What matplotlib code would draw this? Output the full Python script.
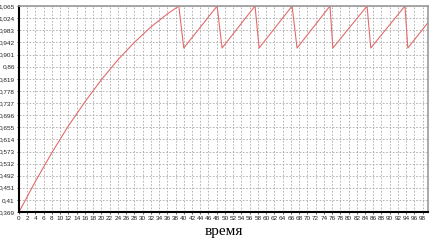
import numpy as np
import matplotlib
matplotlib.use("Agg")
import matplotlib.pyplot as plt
from matplotlib.ticker import FuncFormatter

# Data
# initial rise
t_rise = [0, 4, 8, 12, 16, 20, 24, 28, 32, 36, 38.8]
v_rise = [0.369, 0.473, 0.570, 0.660, 0.741, 0.816, 0.883, 0.942, 0.994, 1.038, 1.065]
# sawtooth part: troughs and peaks
t_saw = [40.0, 48.1, 49.3, 57.3, 58.3, 66.3, 67.5, 75.5, 76.2, 84.5, 85.4, 93.7, 94.4, 99.3]
v_saw = [0.923, 1.065, 0.923, 1.065, 0.923, 1.065, 0.923, 1.065, 0.923, 1.065, 0.923, 1.065, 0.923, 1.009]

t = t_rise + t_saw
v = v_rise + v_saw

y_ticks = [0.369, 0.41, 0.451, 0.492, 0.532, 0.573, 0.614, 0.655, 0.696,
           0.737, 0.778, 0.819, 0.86, 0.901, 0.942, 0.983, 1.024, 1.065]
x_ticks = list(range(0, 99, 2))

fig = plt.figure(figsize=(4.33, 2.48), dpi=100)
ax = fig.add_axes([0.0439, 0.1452, 0.9446, 0.8306])

ax.plot(t, v, color='#e36b6b', linewidth=0.8)

ax.set_xlim(0, 99.3)
ax.set_ylim(0.369, 1.065)
ax.set_xticks(x_ticks)
ax.set_yticks(y_ticks)

ax.yaxis.set_major_formatter(FuncFormatter(lambda val, pos: ('%g' % round(val, 3)).replace('.', ',')))

narrow = ['Liberation Sans Narrow', 'DejaVu Sans Condensed', 'Liberation Sans']
for lab in ax.get_xticklabels() + ax.get_yticklabels():
    lab.set_family(narrow)
    lab.set_fontsize(4.6)
ax.tick_params(axis='both', length=1.5, width=0.5, pad=1.5, colors='#222222')

ax.grid(True, color='#a8a8a8', linestyle=(0, (2, 2)), linewidth=0.6)
ax.set_axisbelow(True)

for s in ['left', 'bottom']:
    ax.spines[s].set_color('black')
    ax.spines[s].set_linewidth(1.5)
for s in ['top', 'right']:
    ax.spines[s].set_color('#999999')
    ax.spines[s].set_linewidth(1.2)

ax.set_xlabel('время', family=['Liberation Serif', 'DejaVu Serif'], fontsize=11, labelpad=3)

fig.savefig('out.png', dpi=100)
